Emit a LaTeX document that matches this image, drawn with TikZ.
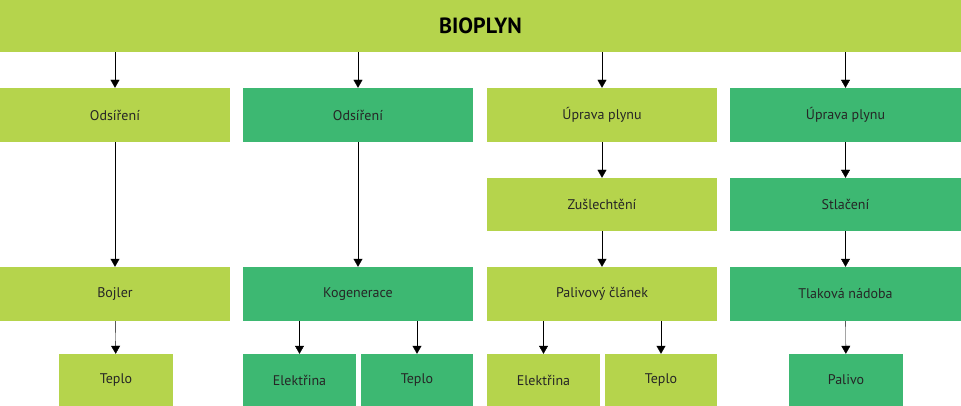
\documentclass[tikz,border=0pt]{standalone}
\usepackage{fontspec}
\setmainfont{PT Sans}
\usetikzlibrary{arrows.meta,positioning}
\definecolor{lightg}{HTML}{B5D44C}
\definecolor{darkg}{HTML}{3DB872}
\begin{document}
\begin{tikzpicture}[x=1pt,y=-1pt,
  box/.style={minimum height=54pt,inner sep=0pt,font=\fontsize{14}{16}\selectfont,text=black!85},
  lbox/.style={box,fill=lightg},
  dbox/.style={box,fill=darkg},
  arr/.style={-{Triangle[width=9pt,length=8pt]},black}]
  \useasboundingbox (0,0) rectangle (961,406);
  \node[fill=lightg,minimum width=961pt,minimum height=52pt,inner sep=0pt,font=\fontsize{22}{24}\selectfont\bfseries] (top) at (480.5,26) {BIOPLYN};
  % column 1
  \node[lbox,minimum width=230pt] (a1) at (115,115) {Odsíření};
  \node[lbox,minimum width=230pt] (a3) at (115,294) {Bojler};
  \node[lbox,minimum width=114pt,minimum height=52pt] (a4) at (116,380) {Teplo};
  % column 2
  \node[dbox,minimum width=230pt] (b1) at (358,115) {Odsíření};
  \node[dbox,minimum width=230pt] (b3) at (358,294) {Kogenerace};
  \node[dbox,minimum width=113pt,minimum height=52pt] (b4) at (299.5,380) {Elektřina};
  \node[dbox,minimum width=112pt,minimum height=52pt] (b5) at (417,380) {Teplo};
  % column 3
  \node[lbox,minimum width=230pt] (c1) at (602,115) {Úprava plynu};
  \node[lbox,minimum width=230pt,minimum height=53pt] (c2) at (602,204.5) {Zušlechtění};
  \node[lbox,minimum width=230pt] (c3) at (602,294) {Palivový článek};
  \node[lbox,minimum width=113pt,minimum height=52pt] (c4) at (543.5,380) {Elektřina};
  \node[lbox,minimum width=112pt,minimum height=52pt] (c5) at (661,380) {Teplo};
  % column 4
  \node[dbox,minimum width=231pt] (d1) at (845.5,115) {Úprava plynu};
  \node[dbox,minimum width=231pt,minimum height=53pt] (d2) at (845.5,204.5) {Stlačení};
  \node[dbox,minimum width=231pt] (d3) at (845.5,294) {Tlaková nádoba};
  \node[dbox,minimum width=114pt,minimum height=52pt] (d4) at (846,380) {Palivo};
  \foreach \c in {a1,b1,c1,d1}
    \draw[arr] (top.south -| \c.north) -- (\c.north);
  \draw[arr] (a1) -- (a3);
  \draw[arr] (a3) -- (a4);
  \draw[arr] (b1) -- (b3);
  \draw[arr] (b3.south -| b4) -- (b4);
  \draw[arr] (b3.south -| b5) -- (b5);
  \draw[arr] (c1) -- (c2);
  \draw[arr] (c2) -- (c3);
  \draw[arr] (c3.south -| c4) -- (c4);
  \draw[arr] (c3.south -| c5) -- (c5);
  \draw[arr] (d1) -- (d2);
  \draw[arr] (d2) -- (d3);
  \draw[arr] (d3) -- (d4);
\end{tikzpicture}
\end{document}
